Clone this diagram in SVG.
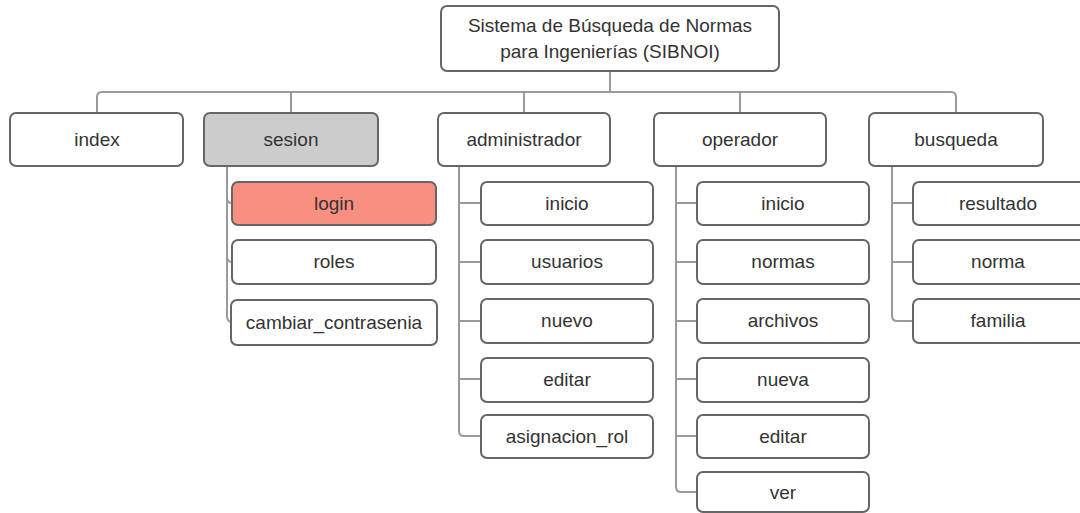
<svg xmlns="http://www.w3.org/2000/svg" width="1080" height="513" viewBox="0 0 1080 513">
<style>
.box{fill:#ffffff;stroke:#666666;stroke-width:2}
.grey{fill:#cccccc}
.red{fill:#f98f80}
.lbl{font-family:"Liberation Sans",Arial,sans-serif;font-size:19px;fill:#333333;text-anchor:middle}
.con{fill:none;stroke:#9a9a9a;stroke-width:2}
</style>
<rect width="1080" height="513" fill="#ffffff"/>
<g id="connectors">
<path class="con" d="M610,71 V92"/>
<path class="con" d="M97,113 V97 Q97,92 102,92 H951 Q956,92 956,97 V113"/>
<path class="con" d="M291,92 V113 M524,92 V113 M740,92 V113"/>
<path class="con" d="M227,166 V316 Q227,322 232,322 M227,198 Q227,203 232,203 M227,256 Q227,262 232,262"/>
<path class="con" d="M459,166 V431 Q459,436 464,436 H481 M459,203 H481 M459,262 H481 M459,321 H481 M459,379 H481"/>
<path class="con" d="M676,166 V487 Q676,492 681,492 H697 M676,203 H697 M676,262 H697 M676,321 H697 M676,379 H697 M676,436 H697"/>
<path class="con" d="M892,166 V316 Q892,321 897,321 H913 M892,203 H913 M892,262 H913"/>
</g>
<g id="root"><rect class="box" x="441" y="6" width="338" height="65" rx="6"/><text class="lbl" x="610" y="32">Sistema de Búsqueda de Normas</text><text class="lbl" x="610" y="58">para Ingenierías (SIBNOI)</text></g>
<g id="index"><rect class="box" x="10" y="113" width="173" height="53" rx="6"/><text class="lbl" x="97" y="146">index</text></g>
<g id="sesion"><rect class="box grey" x="204" y="113" width="174" height="53" rx="6"/><text class="lbl" x="291" y="146">sesion</text></g>
<g id="administrador"><rect class="box" x="438" y="113" width="172" height="53" rx="6"/><text class="lbl" x="524" y="146">administrador</text></g>
<g id="operador"><rect class="box" x="654" y="113" width="172" height="53" rx="6"/><text class="lbl" x="740" y="146">operador</text></g>
<g id="busqueda"><rect class="box" x="869" y="113" width="174" height="53" rx="6"/><text class="lbl" x="956" y="146">busqueda</text></g>
<g id="login"><rect class="box red" x="232" y="182" width="204" height="43" rx="6"/><text class="lbl" x="334" y="210">login</text></g>
<g id="roles"><rect class="box" x="232" y="240" width="204" height="44" rx="6"/><text class="lbl" x="334" y="268">roles</text></g>
<g id="cambiar_contrasenia"><rect class="box" x="231" y="300" width="206" height="45" rx="6"/><text class="lbl" x="334" y="329">cambiar_contrasenia</text></g>
<g id="adm_inicio"><rect class="box" x="481" y="182" width="172" height="43" rx="6"/><text class="lbl" x="567" y="210">inicio</text></g>
<g id="adm_usuarios"><rect class="box" x="481" y="240" width="172" height="44" rx="6"/><text class="lbl" x="567" y="268">usuarios</text></g>
<g id="adm_nuevo"><rect class="box" x="481" y="299" width="172" height="44" rx="6"/><text class="lbl" x="567" y="327">nuevo</text></g>
<g id="adm_editar"><rect class="box" x="481" y="358" width="172" height="44" rx="6"/><text class="lbl" x="567" y="386">editar</text></g>
<g id="adm_asignacion_rol"><rect class="box" x="481" y="415" width="172" height="43" rx="6"/><text class="lbl" x="567" y="443">asignacion_rol</text></g>
<g id="op_inicio"><rect class="box" x="697" y="182" width="172" height="43" rx="6"/><text class="lbl" x="783" y="210">inicio</text></g>
<g id="op_normas"><rect class="box" x="697" y="240" width="172" height="44" rx="6"/><text class="lbl" x="783" y="268">normas</text></g>
<g id="op_archivos"><rect class="box" x="697" y="299" width="172" height="44" rx="6"/><text class="lbl" x="783" y="327">archivos</text></g>
<g id="op_nueva"><rect class="box" x="697" y="358" width="172" height="44" rx="6"/><text class="lbl" x="783" y="386">nueva</text></g>
<g id="op_editar"><rect class="box" x="697" y="415" width="172" height="43" rx="6"/><text class="lbl" x="783" y="443">editar</text></g>
<g id="op_ver"><rect class="box" x="697" y="472" width="172" height="40" rx="6"/><text class="lbl" x="783" y="499">ver</text></g>
<g id="resultado"><rect class="box" x="913" y="182" width="175" height="43" rx="6"/><text class="lbl" x="998" y="210">resultado</text></g>
<g id="norma"><rect class="box" x="913" y="240" width="175" height="44" rx="6"/><text class="lbl" x="998" y="268">norma</text></g>
<g id="familia"><rect class="box" x="913" y="299" width="175" height="44" rx="6"/><text class="lbl" x="998" y="327">familia</text></g>
</svg>
